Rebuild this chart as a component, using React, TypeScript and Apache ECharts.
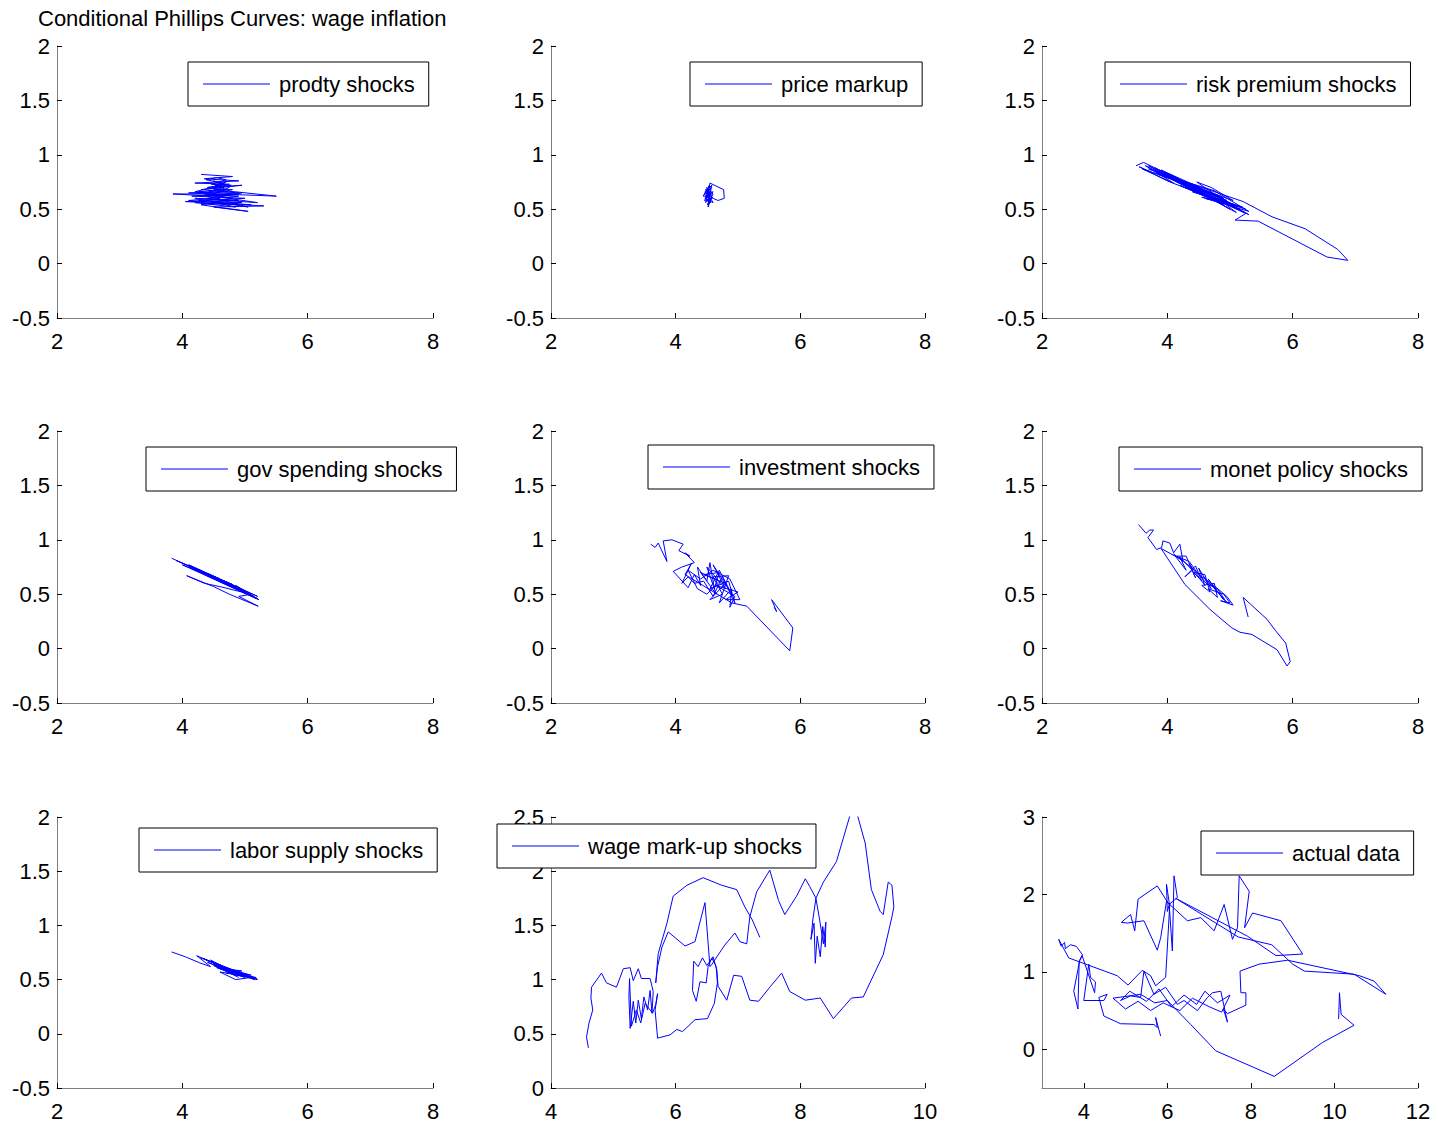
import React, { useEffect, useRef } from "react";
import * as echarts from "echarts";

const TITLE = "Conditional Phillips Curves: wage inflation";
const SERIES_NAMES = [
  "prodty shocks",
  "price markup",
  "risk premium shocks",
  "gov spending shocks",
  "investment shocks",
  "monet policy shocks",
  "labor supply shocks",
  "wage mark-up shocks",
  "actual data",
];

const PRODTY = [
  [4.3, 0.82], [4.8, 0.8], [4.35, 0.78], [4.9, 0.76], [4.2, 0.74], [4.75, 0.73], [4.4, 0.7], [4.95, 0.72],
  [4.3, 0.68], [4.85, 0.66], [5.5, 0.62], [4.6, 0.64], [3.85, 0.64], [4.5, 0.62], [5.2, 0.56], [4.2, 0.6],
  [4.9, 0.58], [4.05, 0.57], [4.7, 0.55], [5.3, 0.53], [4.5, 0.52], [5.05, 0.48], [4.3, 0.54], [4.8, 0.6],
  [4.25, 0.66], [4.7, 0.68], [4.45, 0.74], [4.62, 0.71], [4.48, 0.69], [4.7, 0.75], [4.52, 0.72], [4.66, 0.7],
  [4.35, 0.64], [4.9, 0.62], [4.1, 0.58], [4.6, 0.56], [5.05, 0.52], [4.4, 0.62], [4.75, 0.7], [4.5, 0.76],
  [4.68, 0.73], [4.2, 0.66], [4.9, 0.64], [4.15, 0.62], [5.0, 0.6], [4.25, 0.58], [4.95, 0.56], [4.3, 0.55],
  [5.1, 0.54], [4.45, 0.57], [4.85, 0.52], [4.2, 0.56], [4.6, 0.6], [4.42, 0.67], [4.72, 0.66], [4.5, 0.7],
  [4.78, 0.72], [4.46, 0.73], [4.7, 0.77], [4.55, 0.79], [4.38, 0.77], [4.65, 0.74], [4.5, 0.68], [4.8, 0.68],
  [4.3, 0.62], [4.75, 0.63], [4.1, 0.65], [4.55, 0.66], [4.95, 0.65], [4.4, 0.6],
];

const PRICE_MARKUP = [
  [4.5, 0.68], [4.56, 0.58], [4.46, 0.64], [4.6, 0.66], [4.48, 0.56], [4.54, 0.72], [4.44, 0.62], [4.58, 0.62],
  [4.52, 0.52], [4.56, 0.7], [4.47, 0.6], [4.6, 0.56], [4.52, 0.64], [4.55, 0.74], [4.77, 0.68], [4.78, 0.6],
  [4.68, 0.58], [4.6, 0.6], [4.5, 0.66], [4.54, 0.55], [4.49, 0.6], [4.57, 0.66], [4.46, 0.58], [4.59, 0.6],
  [4.5, 0.7], [4.53, 0.58], [4.58, 0.72], [4.47, 0.66], [4.55, 0.6], [4.51, 0.54], [4.6, 0.64], [4.48, 0.68],
  [4.56, 0.56], [4.52, 0.62],
];

const RISK_PREMIUM = [
  [3.5, 0.9], [3.62, 0.93], [4.2, 0.77], [3.7, 0.87], [4.5, 0.7], [3.85, 0.82], [4.9, 0.6], [4.1, 0.78],
  [4.6, 0.66], [3.9, 0.86], [4.4, 0.73], [5.1, 0.53], [4.3, 0.7], [4.85, 0.62], [4.25, 0.76], [4.75, 0.67],
  [5.3, 0.48], [4.55, 0.61], [5.0, 0.56], [4.4, 0.66], [5.2, 0.52], [4.7, 0.61], [5.25, 0.46], [5.08, 0.4],
  [5.45, 0.39], [6.55, 0.06], [6.88, 0.03], [6.72, 0.13], [6.2, 0.32], [5.67, 0.43], [5.21, 0.57], [4.45, 0.72],
  [3.75, 0.84], [3.55, 0.89], [4.0, 0.76], [4.8, 0.58], [5.15, 0.5], [4.6, 0.64], [4.05, 0.8], [4.35, 0.69],
  [4.95, 0.56], [5.3, 0.45], [4.9, 0.58], [4.47, 0.75], [4.7, 0.7], [5.05, 0.58], [3.6, 0.87], [4.1, 0.74],
  [3.65, 0.9], [4.3, 0.72], [3.8, 0.85], [4.6, 0.62], [3.95, 0.83], [4.7, 0.64], [4.15, 0.75], [4.95, 0.58],
  [4.3, 0.74], [5.0, 0.5], [4.5, 0.66], [5.2, 0.48], [4.65, 0.63], [5.25, 0.5], [4.8, 0.6], [5.1, 0.47],
  [4.4, 0.69], [4.9, 0.54], [4.2, 0.72], [4.75, 0.59], [4.0, 0.8], [4.55, 0.68], [3.8, 0.88], [4.35, 0.7],
  [3.7, 0.9], [4.25, 0.73], [4.85, 0.6], [5.0, 0.54], [4.6, 0.6], [5.15, 0.52], [4.45, 0.68],
];

const GOV_SPENDING = [
  [3.83, 0.83], [4.3, 0.71], [3.9, 0.81], [4.6, 0.64], [4.1, 0.77], [4.9, 0.56], [4.4, 0.69], [5.2, 0.48],
  [4.7, 0.61], [5.15, 0.47], [4.8, 0.57], [5.22, 0.45], [4.95, 0.52], [4.6, 0.57], [4.35, 0.6], [4.07, 0.67],
  [4.5, 0.57], [4.75, 0.5], [5.0, 0.44], [5.21, 0.39], [4.9, 0.48], [5.1, 0.5], [4.85, 0.58], [5.18, 0.46],
  [4.0, 0.77], [4.5, 0.66], [4.2, 0.73], [4.8, 0.59], [4.3, 0.71], [5.0, 0.52], [4.55, 0.64], [5.1, 0.49],
  [4.65, 0.61], [5.2, 0.46], [4.85, 0.55], [4.4, 0.67], [4.95, 0.54], [4.1, 0.75], [4.7, 0.59], [5.05, 0.5],
  [4.6, 0.62], [5.15, 0.48],
];

const INVESTMENT = [
  [3.6, 0.96], [3.67, 0.93], [3.72, 0.97], [3.86, 0.8], [3.8, 0.99], [3.94, 1.0], [4.12, 0.96], [4.05, 0.9],
  [4.23, 0.85], [4.15, 0.88], [4.3, 0.79], [4.1, 0.75], [3.96, 0.71], [4.2, 0.56], [4.3, 0.68], [4.4, 0.58],
  [4.35, 0.75], [4.5, 0.62], [4.55, 0.79], [4.62, 0.55], [4.7, 0.7], [4.45, 0.68], [4.8, 0.6], [4.55, 0.45],
  [4.75, 0.5], [4.6, 0.66], [4.85, 0.67], [4.7, 0.42], [4.9, 0.55], [4.87, 0.38], [4.95, 0.48], [4.65, 0.58],
  [5.0, 0.52], [4.8, 0.45], [5.03, 0.45], [4.87, 0.64], [4.6, 0.72], [4.4, 0.64], [4.2, 0.72], [4.35, 0.55],
  [4.5, 0.5], [4.7, 0.62], [4.4, 0.7], [4.65, 0.5], [4.5, 0.75], [4.8, 0.55], [4.6, 0.77], [4.9, 0.5],
  [4.7, 0.72], [4.55, 0.55], [4.85, 0.62], [4.95, 0.42], [4.75, 0.66], [4.6, 0.48], [4.45, 0.62], [4.3, 0.6],
  [4.2, 0.66], [4.1, 0.6], [4.25, 0.78], [4.15, 0.68], [4.9, 0.42], [5.14, 0.39], [5.83, -0.02], [5.88, 0.19],
  [5.54, 0.45], [5.62, 0.34], [5.58, 0.38],
];

const MONET_POLICY = [
  [3.54, 1.14], [3.66, 1.06], [3.72, 1.09], [3.78, 1.09], [3.69, 1.02], [3.83, 0.91], [3.91, 0.93], [3.93, 0.99],
  [4.04, 0.97], [4.1, 0.88], [4.2, 0.96], [4.25, 0.8], [4.1, 0.87], [4.3, 0.72], [4.2, 0.84], [4.4, 0.72],
  [4.28, 0.66], [4.45, 0.76], [4.55, 0.62], [4.42, 0.7], [4.6, 0.68], [4.68, 0.52], [4.55, 0.58], [4.75, 0.6],
  [4.8, 0.47], [4.65, 0.55], [4.9, 0.5], [5.0, 0.42], [4.85, 0.44], [5.05, 0.4], [4.95, 0.48], [4.7, 0.6],
  [4.5, 0.68], [4.35, 0.8], [4.15, 0.85], [4.3, 0.85], [4.45, 0.65], [4.35, 0.78], [4.6, 0.58], [4.5, 0.74],
  [4.7, 0.55], [4.58, 0.66], [4.8, 0.52], [4.65, 0.64], [4.9, 0.45], [4.72, 0.58], [4.95, 0.42], [4.8, 0.55],
  [4.62, 0.6], [4.48, 0.7], [4.22, 0.82], [3.9, 0.92], [4.28, 0.59], [4.68, 0.36], [5.03, 0.19], [5.16, 0.15],
  [5.35, 0.13], [5.75, -0.01], [5.91, -0.16], [5.96, -0.12], [5.89, 0.05], [5.72, 0.17], [5.59, 0.27], [5.21, 0.47],
  [5.29, 0.29],
];

const LABOR_SUPPLY = [
  [3.83, 0.755], [4.05, 0.71], [4.28, 0.654], [4.45, 0.62], [4.23, 0.72], [4.6, 0.63], [4.35, 0.69], [4.8, 0.58],
  [4.5, 0.66], [5.0, 0.54], [4.65, 0.62], [5.19, 0.51], [4.9, 0.55], [4.4, 0.66], [4.75, 0.58], [5.1, 0.52],
  [4.85, 0.5], [4.6, 0.57], [5.05, 0.53], [4.7, 0.61], [5.15, 0.5], [4.3, 0.7], [4.9, 0.57], [4.5, 0.64],
  [5.1, 0.54], [4.6, 0.6], [5.2, 0.5], [4.8, 0.55], [4.45, 0.68], [5.0, 0.52], [4.55, 0.61], [4.95, 0.58],
  [4.7, 0.56], [5.17, 0.52], [4.85, 0.54], [4.5, 0.63], [4.9, 0.52],
];

const WAGE_MARKUP = [
  [4.6, 0.37], [4.57, 0.47], [4.61, 0.6], [4.67, 0.72], [4.64, 0.83], [4.65, 0.93], [4.81, 1.06], [4.89, 0.97],
  [5.05, 0.93], [5.16, 1.1], [5.27, 1.11], [5.32, 0.99], [5.4, 1.1], [5.45, 1.01], [5.59, 1.01], [5.64, 0.89],
  [5.62, 0.69], [5.59, 0.9], [5.55, 0.72], [5.49, 0.84], [5.45, 0.64], [5.4, 0.81], [5.36, 0.6], [5.32, 0.8],
  [5.27, 0.55], [5.25, 0.84], [5.26, 1.01], [5.29, 0.57], [5.37, 0.72], [5.44, 0.6], [5.51, 0.78], [5.63, 0.69],
  [5.68, 0.77], [5.71, 0.87], [5.67, 0.72], [5.71, 0.46], [5.91, 0.49], [6.02, 0.54], [6.11, 0.52], [6.31, 0.63],
  [6.51, 0.64], [6.62, 0.78], [6.67, 0.97], [6.65, 1.12], [6.58, 1.2], [6.52, 1.12], [6.49, 0.97], [6.39, 0.98],
  [6.33, 0.8], [6.27, 0.9], [6.29, 1.17], [6.36, 1.12], [6.43, 1.2], [6.5, 1.13], [6.6, 1.21], [6.66, 1.09],
  [6.68, 0.94], [6.82, 0.81], [6.93, 1.04], [7.06, 1.03], [7.19, 0.81], [7.33, 0.8], [7.51, 0.93], [7.7, 1.06],
  [7.83, 0.89], [8.08, 0.81], [8.32, 0.83], [8.53, 0.64], [8.82, 0.83], [9.01, 0.84], [9.33, 1.23], [9.47, 1.58],
  [9.5, 1.67], [9.47, 1.87], [9.41, 1.9], [9.33, 1.6], [9.28, 1.63], [9.14, 1.83], [9.04, 2.26], [8.9, 2.55],
  [8.84, 2.6], [8.58, 2.09], [8.37, 1.9], [8.25, 1.75], [8.2, 1.55], [8.17, 1.37], [8.22, 1.52], [8.24, 1.15],
  [8.27, 1.4], [8.32, 1.21], [8.36, 1.49], [8.4, 1.3], [8.41, 1.53], [8.37, 1.33], [8.31, 1.55], [8.25, 1.75],
  [8.15, 1.86], [8.08, 1.93], [7.94, 1.77], [7.75, 1.6], [7.65, 1.73], [7.51, 2.01], [7.3, 1.81], [7.19, 1.58],
  [7.14, 1.33], [7.03, 1.35], [6.95, 1.43], [6.79, 1.32], [6.66, 1.21], [6.58, 1.14], [6.55, 1.12], [6.47, 1.71],
  [6.31, 1.35], [6.15, 1.31], [5.88, 1.44], [5.78, 1.3], [5.71, 1.12], [5.68, 0.97], [5.72, 1.24], [5.86, 1.52],
  [5.96, 1.77], [6.18, 1.87], [6.44, 1.94], [6.74, 1.87], [6.98, 1.83], [7.11, 1.67], [7.23, 1.55], [7.35, 1.39],
];

const ACTUAL_DATA = [
  [5.84, 0.17], [5.72, 0.41], [5.76, 0.28], [5.68, 0.32], [4.88, 0.33], [4.48, 0.43], [4.36, 0.67], [4.56, 0.71],
  [4.48, 0.63], [4.0, 0.63], [4.12, 1.1], [4.16, 0.93], [4.28, 0.87], [4.26, 0.73], [3.96, 1.21], [3.9, 1.14],
  [3.76, 0.75], [3.86, 0.52], [3.89, 1.14], [3.97, 1.22], [3.82, 1.33], [3.68, 1.35], [3.56, 1.3], [3.54, 1.38],
  [3.46, 1.33], [3.4, 1.42], [3.64, 1.18], [4.8, 0.95], [5.06, 0.83], [5.4, 1.02], [5.6, 0.95], [5.72, 0.82],
  [5.96, 0.93], [6.06, 1.89], [6.0, 1.78], [5.98, 2.13], [6.04, 1.91], [6.12, 1.27], [6.16, 2.24], [6.24, 1.96],
  [6.04, 1.87], [5.76, 2.11], [5.3, 1.94], [5.22, 1.53], [5.12, 1.74], [4.9, 1.64], [5.04, 1.63], [5.44, 1.66],
  [5.76, 1.28], [5.84, 1.44], [5.98, 1.91], [6.48, 1.66], [6.8, 1.7], [7.12, 1.53], [7.36, 1.87], [7.56, 1.42],
  [7.68, 1.57], [7.72, 2.24], [7.96, 2.04], [7.85, 1.57], [8.04, 1.76], [8.72, 1.66], [9.24, 1.23], [8.6, 1.21],
  [7.92, 1.46], [6.2, 1.95], [7.7, 1.45], [8.5, 1.35], [9.0, 1.1], [9.28, 1.01], [10.47, 0.97], [11.23, 0.71],
  [10.95, 0.88], [10.6, 0.95], [8.88, 1.15], [8.2, 1.1], [7.74, 1.01], [7.76, 0.73], [7.88, 0.73], [7.88, 0.57],
  [7.44, 0.46], [7.34, 0.52], [7.44, 0.35], [7.28, 0.75], [7.08, 0.73], [6.96, 0.67], [6.72, 0.5], [6.4, 0.63],
  [6.24, 0.58], [5.96, 0.8], [5.68, 0.71], [5.44, 1.01], [5.36, 0.67], [5.12, 0.69], [4.88, 0.63], [5.1, 0.75],
  [5.5, 0.62], [5.8, 0.78], [6.1, 0.55], [6.4, 0.7], [6.7, 0.58], [6.9, 0.75], [7.2, 0.6], [7.5, 0.7],
  [7.3, 0.48], [7.0, 0.55], [6.6, 0.66], [6.3, 0.5], [5.9, 0.6], [5.6, 0.5], [5.3, 0.62], [5.0, 0.52],
  [4.7, 0.66], [5.36, 0.71], [5.7, 0.6], [6.0, 0.63], [6.56, 0.32], [7.16, -0.02], [8.56, -0.35], [9.72, 0.09],
  [10.47, 0.31], [10.16, 0.45], [10.12, 0.73], [10.1, 0.39],
];

const SERIES_DATA = [
  PRODTY, PRICE_MARKUP, RISK_PREMIUM, GOV_SPENDING, INVESTMENT, MONET_POLICY, LABOR_SUPPLY, WAGE_MARKUP, ACTUAL_DATA,
];

const X_RANGE_STD = [2, 8, 2];
const Y_RANGE_STD = [-0.5, 2, 0.5];
const X_RANGE_WAGE = [4, 10, 2];
const Y_RANGE_WAGE = [0, 2.5, 0.5];
const X_RANGE_ACTUAL = [3, 12];
const X_TICKS_ACTUAL = [4, 6, 8, 10, 12];
const Y_RANGE_ACTUAL = [-0.5, 3];
const Y_TICKS_ACTUAL = [0, 1, 2, 3];

const FONT = "'Liberation Sans', Arial, Helvetica, sans-serif";
const BLUE = "#0000ff";

const COL_LEFT = [57, 551, 1042];
const COL_WIDTH = [376, 374, 376];
const ROW_TOP = [46, 431, 817];
const ROW_HEIGHT = [272, 272, 271];
const LEGEND_POS = [
  [188, 62], [690, 62], [1105, 62],
  [146, 447], [648, 445], [1119, 447],
  [139, 828], [497, 824], [1201, 831],
];

function buildOption() {
  const grid: any[] = [];
  const xAxis: any[] = [];
  const yAxis: any[] = [];
  const series: any[] = [];
  const legend: any[] = [];
  const labelStyle = { fontSize: 22, color: "#000", fontFamily: FONT };
  for (let i = 0; i < 9; i++) {
    const r = Math.floor(i / 3);
    const c = i % 3;
    grid.push({ left: COL_LEFT[c], top: ROW_TOP[r], width: COL_WIDTH[c], height: ROW_HEIGHT[r], containLabel: false });
    const base = {
      gridIndex: i,
      type: "value",
      splitLine: { show: false },
      axisLine: { show: true, onZero: false, lineStyle: { color: "#7f7f7f", width: 1 } },
      axisTick: { show: true, inside: true, length: 5, lineStyle: { color: "#000", width: 1 } },
    };
    let xa: any, ya: any;
    if (i < 7) {
      xa = { min: X_RANGE_STD[0], max: X_RANGE_STD[1], interval: X_RANGE_STD[2] };
      ya = { min: Y_RANGE_STD[0], max: Y_RANGE_STD[1], interval: Y_RANGE_STD[2] };
    } else if (i === 7) {
      xa = { min: X_RANGE_WAGE[0], max: X_RANGE_WAGE[1], interval: X_RANGE_WAGE[2] };
      ya = { min: Y_RANGE_WAGE[0], max: Y_RANGE_WAGE[1], interval: Y_RANGE_WAGE[2] };
    } else {
      xa = {
        min: X_RANGE_ACTUAL[0], max: X_RANGE_ACTUAL[1],
        axisTick: { ...base.axisTick, customValues: X_TICKS_ACTUAL },
        axisLabel: { ...labelStyle, margin: 12, customValues: X_TICKS_ACTUAL },
      };
      ya = {
        min: Y_RANGE_ACTUAL[0], max: Y_RANGE_ACTUAL[1],
        axisTick: { ...base.axisTick, customValues: Y_TICKS_ACTUAL },
        axisLabel: { ...labelStyle, margin: 7, customValues: Y_TICKS_ACTUAL },
      };
    }
    xAxis.push({ ...base, position: "bottom", axisLabel: { ...labelStyle, margin: 12 }, ...xa });
    yAxis.push({ ...base, position: "left", axisLabel: { ...labelStyle, margin: 7 }, ...ya });
    series.push({
      name: SERIES_NAMES[i],
      type: "line",
      xAxisIndex: i,
      yAxisIndex: i,
      data: SERIES_DATA[i],
      showSymbol: false,
      symbol: "none",
      clip: true,
      color: BLUE,
      itemStyle: { color: BLUE },
      lineStyle: { color: BLUE, width: 1 },
      z: 2,
    });
    legend.push({
      data: [SERIES_NAMES[i]],
      left: LEGEND_POS[i][0],
      top: LEGEND_POS[i][1],
      orient: "horizontal",
      icon: "rect",
      itemWidth: 67,
      itemHeight: 1,
      padding: [11, 14, 11, 15],
      borderColor: "#000",
      borderWidth: 1,
      borderRadius: 0,
      backgroundColor: "#fff",
      selectedMode: false,
      z: 10,
      textStyle: { fontSize: 22, color: "#000", fontFamily: FONT, padding: [0, 0, 0, 4] },
    });
  }
  return {
    animation: false,
    backgroundColor: "#fff",
    title: {
      text: TITLE,
      left: 38,
      top: 7,
      padding: 0,
      textStyle: { fontSize: 22, fontWeight: "normal", color: "#000", fontFamily: FONT },
    },
    grid,
    xAxis,
    yAxis,
    series,
    legend,
  };
}

export default function App() {
  const ref = useRef<HTMLDivElement>(null);
  useEffect(() => {
    if (!ref.current) return;
    const chart = echarts.init(ref.current, undefined, { renderer: "svg" });
    chart.setOption(buildOption() as any);
    return () => chart.dispose();
  }, []);
  return (
    <div
      ref={ref}
      style={{ position: "absolute", left: 0, top: 0, width: 1438, height: 1125, background: "#fff" }}
    />
  );
}
